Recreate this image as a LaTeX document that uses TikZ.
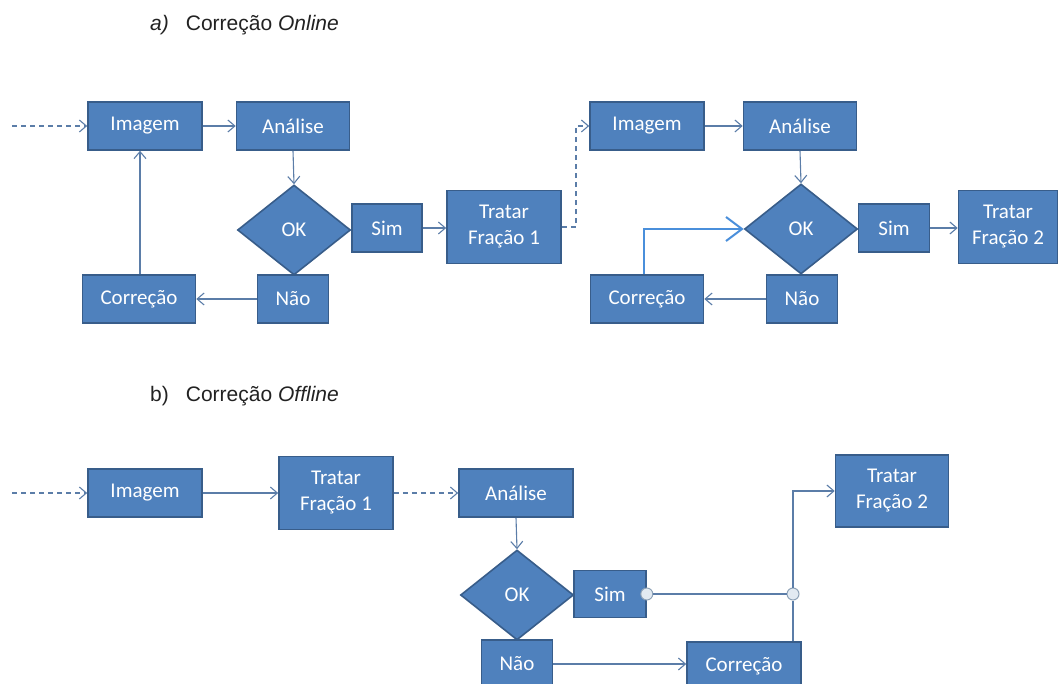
\documentclass[tikz,border=0pt]{standalone}
\usepackage{fontspec}
\setmainfont{Liberation Sans}
\newfontfamily\boxfont{Carlito}
\usetikzlibrary{shapes.geometric,arrows.meta}
\definecolor{boxfill}{HTML}{4F81BD}
\definecolor{boxline}{HTML}{385D8A}
\definecolor{connc}{HTML}{5B7DA8}
\definecolor{hilite}{HTML}{4A8FDB}
\definecolor{titlec}{HTML}{222222}
\definecolor{juncfill}{HTML}{E2EAF2}
\definecolor{juncline}{HTML}{8FA3B8}
\tikzset{
  stepbox/.style={draw=boxline, fill=boxfill, line width=1.6pt, text=white,
    font=\boxfont\fontsize{21}{26}\selectfont, inner sep=0pt, align=center},
  decision/.style={stepbox, shape=diamond, minimum width=113pt, minimum height=90pt},
  conn/.style={draw=connc, line width=1.1pt},
  arr/.style={conn, -{Straight Barb[length=7pt,width=12pt]}},
  darr/.style={arr, dash pattern=on 5pt off 4pt},
  hiarr/.style={draw=hilite, line width=2pt, -{Straight Barb[length=16pt,width=24pt,line width=2pt]}},
  junction/.style={circle, draw=juncline, fill=juncfill, line width=1pt, minimum size=12pt, inner sep=0pt},
  titletext/.style={anchor=west, text=titlec, font=\fontsize{21}{25}\selectfont, inner sep=0pt}
}
\begin{document}
\begin{tikzpicture}[x=1pt,y=-1pt]
\clip (0,0) rectangle (1060,684);
\fill[white] (0,0) rectangle (1060,684);

% ---------- titles ----------
\node[titletext] (ta) at (150,25) {\textit{a)}\hspace{17pt}Correção \textit{Online}};
\node[titletext] (tb) at (150,396) {b)\hspace{17pt}Correção \textit{Offline}};

% ---------- a) left ----------
\node[stepbox, minimum width=114pt, minimum height=48pt] (imgA) at (145,126) {Imagem};
\node[stepbox, minimum width=113pt, minimum height=48pt] (anaA) at (293,126) {Análise};
\node[stepbox, minimum width=71pt, minimum height=48pt] (naoA) at (293,299) {Não};
\node[decision] (okA) at (294,230) {OK};
\node[stepbox, minimum width=70pt, minimum height=48pt] (simA) at (387,228) {Sim};
\node[stepbox, minimum width=114pt, minimum height=73pt] (tratA) at (504,227) {Tratar\\Fração 1};
\node[stepbox, minimum width=113pt, minimum height=48pt] (corA) at (139,299) {Correção};

\coordinate (inA) at (12,126);
\draw[darr] (inA) -- (imgA.west);
\draw[arr] (imgA) -- (anaA);
\draw[arr] (anaA.south) -- (okA.north);
\draw[arr] (simA.east) -- (simA.east -| tratA.west);
\draw[arr] (naoA.west) -- (corA.east);
\draw[arr] ([xshift=1pt]corA.north) -- ([xshift=1pt]corA.north |- imgA.south);

% ---------- a) right ----------
\node[stepbox, minimum width=114pt, minimum height=48pt] (imgA2) at (647,126) {Imagem};
\node[stepbox, minimum width=113pt, minimum height=48pt] (anaA2) at (800,126) {Análise};
\node[stepbox, minimum width=71pt, minimum height=48pt] (naoA2) at (802,299) {Não};
\node[decision] (okA2) at (801,229) {OK};
\node[stepbox, minimum width=71pt, minimum height=48pt] (simA2) at (894,228) {Sim};
\node[stepbox, minimum width=99pt, minimum height=73pt] (tratA2) at (1008,227) {Tratar\\Fração 2};
\node[stepbox, minimum width=113pt, minimum height=48pt] (corA2) at (647,299) {Correção};

\coordinate (dA) at (576,126);
\draw[darr] (tratA.east) -| (dA) -- (imgA2.west);
\draw[arr] (imgA2) -- (anaA2);
\draw[arr] (anaA2.south) -- (okA2.north);
\draw[arr] (simA2.east) -- (simA2.east -| tratA2.west);
\draw[arr] (naoA2.west) -- (corA2.east);
\draw[hiarr] ([xshift=-3pt]corA2.north) |- (okA2.west);

% ---------- b) ----------
\node[stepbox, minimum width=114pt, minimum height=48pt] (imgB) at (145,493) {Imagem};
\node[stepbox, minimum width=114pt, minimum height=73pt] (tratB) at (336,493) {Tratar\\Fração 1};
\node[stepbox, minimum width=114pt, minimum height=48pt] (anaB) at (516,493) {Análise};
\node[stepbox, minimum width=71pt, minimum height=48pt] (naoB) at (517,664) {Não};
\node[decision] (okB) at (517,595) {OK};
\node[stepbox, minimum width=72pt, minimum height=47pt] (simB) at (610,594) {Sim};
\node[stepbox, minimum width=114pt, minimum height=48pt] (corB) at (744,666) {Correção};
\node[stepbox, minimum width=113pt, minimum height=72pt] (tratB2) at (892,491) {Tratar\\Fração 2};

\coordinate (inB) at (12,493);
\draw[darr] (inB) -- (imgB.west);
\draw[arr] (imgB) -- (tratB);
\draw[darr] (tratB) -- (anaB);
\draw[arr] (anaB.south) -- (okB.north);
\draw[arr] (naoB.east) -- (naoB.east -| corB.west);

\node[junction] (j1) at (simB.east) {};
\node[junction] (j2) at (793,594) {};
\draw[conn] (j1) -- (j2);
\draw[conn] (j2) -- (j2 |- corB.north);
\draw[arr] (j2) |- (tratB2.west);
\end{tikzpicture}
\end{document}
